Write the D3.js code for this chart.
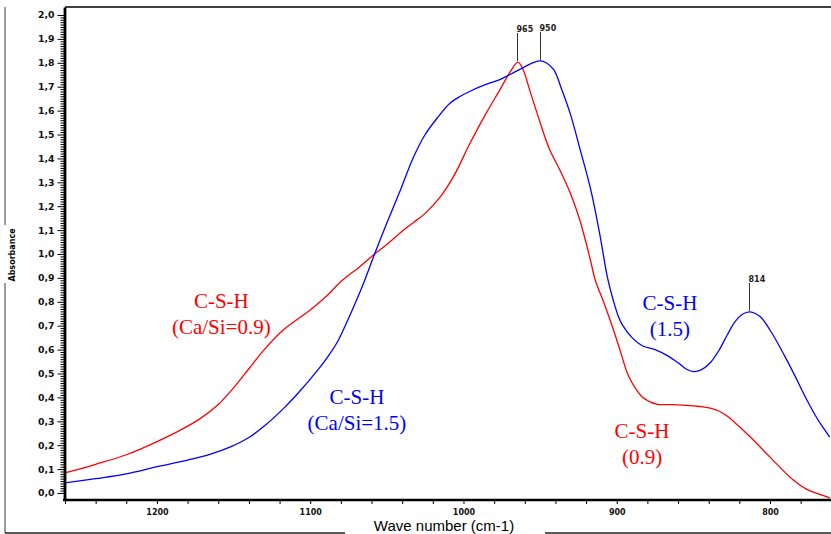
<!DOCTYPE html>
<html>
<head>
<meta charset="utf-8">
<script src="https://cdn.jsdelivr.net/npm/d3@7"></script>
<style>
  body { margin: 0; background: #fff; }
  svg { display: block; }
</style>
</head>
<body>
<svg id="chart" width="831" height="534"></svg>
<script>
// C-S-H (Ca/Si=1.5), blue
const blueWave = [1260, 1240, 1220, 1200, 1180, 1165, 1152, 1140, 1130, 1118, 1109, 1095, 1088, 1082, 1074, 1066, 1058, 1050, 1041, 1033, 1025, 1017, 1009, 1002, 996, 989, 983, 978, 973, 967, 961, 955, 950, 946, 941, 936, 930, 924, 917, 911, 906, 902, 899, 896, 890, 883, 875, 867, 860, 855, 850, 845, 839, 833, 828, 823, 818, 813, 806.5, 800, 789, 782.4, 776, 770, 765, 761];
const blueAbs = [0.042, 0.06, 0.08, 0.11, 0.138, 0.163, 0.193, 0.232, 0.28, 0.35, 0.41, 0.515, 0.575, 0.635, 0.745, 0.865, 1.0, 1.13, 1.27, 1.4, 1.5, 1.57, 1.63, 1.66, 1.68, 1.7, 1.715, 1.725, 1.74, 1.76, 1.78, 1.8, 1.808, 1.8, 1.77, 1.69, 1.58, 1.44, 1.27, 1.08, 0.9, 0.8, 0.74, 0.7, 0.65, 0.615, 0.6, 0.575, 0.545, 0.52, 0.508, 0.515, 0.545, 0.6, 0.66, 0.715, 0.748, 0.758, 0.738, 0.682, 0.556, 0.473, 0.39, 0.32, 0.27, 0.234];

// C-S-H (Ca/Si=0.9), red
const redWave = [1260, 1240, 1220, 1200, 1185, 1172, 1160, 1150, 1140, 1130, 1118, 1100, 1090, 1079, 1068, 1058, 1050, 1041, 1033, 1025, 1015, 1006, 996, 986, 976, 970, 964.4, 961, 957, 950, 944, 937, 930, 924, 917, 914, 908, 902, 897, 893, 888, 883, 874, 865, 855, 846, 839, 833, 828, 823, 813, 800, 785, 776, 768, 761];
const redAbs = [0.084, 0.12, 0.16, 0.215, 0.262, 0.31, 0.37, 0.44, 0.52, 0.6, 0.68, 0.766, 0.82, 0.89, 0.945, 1.0, 1.04, 1.09, 1.13, 1.17, 1.24, 1.33, 1.46, 1.58, 1.69, 1.757, 1.803, 1.77, 1.69, 1.55, 1.44, 1.35, 1.25, 1.14, 0.97, 0.89, 0.79, 0.68, 0.58, 0.5, 0.44, 0.4, 0.372, 0.37, 0.367, 0.362, 0.355, 0.342, 0.322, 0.295, 0.235, 0.15, 0.055, 0.015, -0.005, -0.02];

const peakWave = [965, 950, 814];
const peakAbs = [1.803, 1.808, 0.758];

const yTickValues = [0, 0.1, 0.2, 0.3, 0.4, 0.5, 0.6, 0.7, 0.8, 0.9, 1.0, 1.1, 1.2, 1.3, 1.4, 1.5, 1.6, 1.7, 1.8, 1.9, 2.0];
const xTickValues = [1200, 1100, 1000, 900, 800];

const labelText = [["C-S-H", "(Ca/Si=0.9)"], ["C-S-H", "(Ca/Si=1.5)"], ["C-S-H", "(1.5)"], ["C-S-H", "(0.9)"]];
const labelWave = [1158, 1069.5, 865.3, 883.5];
const labelAbs = [0.774, 0.372, 0.766, 0.23];
const labelColor = ["#ff0000", "#0000ff", "#0000ff", "#ff0000"];

const svg = d3.select("#chart");
const width = 831, height = 534;

const margin = { top: 7, right: 0, bottom: 34, left: 65 };

const x = d3.scaleLinear().domain([1260, 760]).range([margin.left, 831.3]);
const y = d3.scaleLinear().domain([-0.0293, 2.0335]).range([height - margin.bottom, margin.top]);

const comma = (d) => d3.format(".1f")(d).replace(".", ",");

// outer frame (grey), broken round the axis titles
const frame = svg.append("g").attr("stroke", "#6f6f6f").attr("stroke-width", 1.4);
frame.append("line").attr("x1", 5).attr("x2", 5).attr("y1", margin.top).attr("y2", 225);
frame.append("line").attr("x1", 5).attr("x2", 5).attr("y1", 283).attr("y2", 533);
frame.append("line").attr("x1", 5).attr("x2", 345).attr("y1", 533).attr("y2", 533).attr("stroke", "#222");
frame.append("line").attr("x1", 545).attr("x2", width).attr("y1", 533).attr("y2", 533).attr("stroke", "#222");

// top border of plot
svg.append("line")
  .attr("x1", margin.left).attr("x2", width)
  .attr("y1", margin.top).attr("y2", margin.top)
  .attr("stroke", "#000").attr("stroke-width", 1.4);

// curves
const line = (wave, abs) =>
  d3.line()
    .curve(d3.curveCatmullRom.alpha(0.5))
    .x((d, i) => x(wave[i]))
    .y((d, i) => y(abs[i]))(wave);

svg.append("path")
  .attr("d", line(redWave, redAbs))
  .attr("fill", "none").attr("stroke", "#ff0000").attr("stroke-width", 1.3);

svg.append("path")
  .attr("d", line(blueWave, blueAbs))
  .attr("fill", "none").attr("stroke", "#0000ff").attr("stroke-width", 1.3);

// y axis
const gy = svg.append("g").attr("transform", `translate(${margin.left - 0.5},0)`);
gy.call(
  d3.axisLeft(y)
    .tickValues(d3.range(0, 201).map((d) => d / 100).filter((d) => Math.round(d * 100) % 10 !== 0))
    .tickSize(4).tickSizeOuter(0).tickFormat("")
);
gy.call((g) => g.select(".domain").remove());
const gyMajor = svg.append("g").attr("transform", `translate(${margin.left - 0.5},0)`);
gyMajor.call(
  d3.axisLeft(y).tickValues(yTickValues).tickSize(7).tickSizeOuter(0).tickPadding(3).tickFormat(comma)
);
gyMajor.select(".domain").attr("stroke-width", 2.8);
svg.selectAll("g.tick line").attr("stroke", "#000");
gyMajor.selectAll("text")
  .attr("font-family", "DejaVu Sans").attr("font-weight", "bold").attr("font-size", 9.3).attr("fill", "#111");

// x axis
const gx = svg.append("g").attr("transform", `translate(0,${height - margin.bottom})`);
gx.call(
  d3.axisBottom(x)
    .tickValues(d3.range(780, 1261, 20))
    .tickSize(4).tickSizeOuter(0).tickPadding(5)
    .tickFormat((d) => (xTickValues.includes(d) ? d : ""))
);
gx.select(".domain").attr("stroke-width", 2.6).attr("d", `M${margin.left - 2},0H${width}`);
gx.selectAll("line").attr("stroke", "#000");
gx.selectAll("text")
  .attr("font-family", "DejaVu Sans").attr("font-weight", "bold").attr("font-size", 8).attr("fill", "#111");

// axis titles
svg.append("text")
  .attr("transform", "translate(15,255) rotate(-90)")
  .attr("text-anchor", "middle")
  .attr("font-family", "DejaVu Sans").attr("font-weight", "bold").attr("font-size", 8)
  .text("Absorbance");

svg.append("text")
  .attr("x", 444).attr("y", 531)
  .attr("text-anchor", "middle")
  .attr("font-family", "Liberation Sans, Arial, sans-serif").attr("font-size", 15)
  .text("Wave number (cm-1)");

// peak markers
const peaks = svg.append("g");
peakWave.forEach((w, i) => {
  const px = Math.round(x(w)) + 0.5;
  const top = y(peakAbs[i]) - 29;
  peaks.append("line")
    .attr("x1", px).attr("x2", px)
    .attr("y1", y(peakAbs[i]) - 1).attr("y2", top)
    .attr("stroke", "#333").attr("stroke-width", 1);
  peaks.append("text")
    .attr("x", px - 1).attr("y", top - 1)
    .attr("font-family", "DejaVu Sans").attr("font-weight", "bold").attr("font-size", 8)
    .attr("fill", "#222")
    .text(w);
});

// series labels
labelText.forEach((lines, i) => {
  const t = svg.append("text")
    .attr("text-anchor", "middle")
    .attr("font-family", "Liberation Serif, Times New Roman, serif")
    .attr("font-size", 21)
    .attr("fill", labelColor[i]);
  lines.forEach((s, j) => {
    t.append("tspan")
      .attr("x", x(labelWave[i]))
      .attr("y", y(labelAbs[i]) + j * 26)
      .text(s);
  });
});
</script>
</body>
</html>
